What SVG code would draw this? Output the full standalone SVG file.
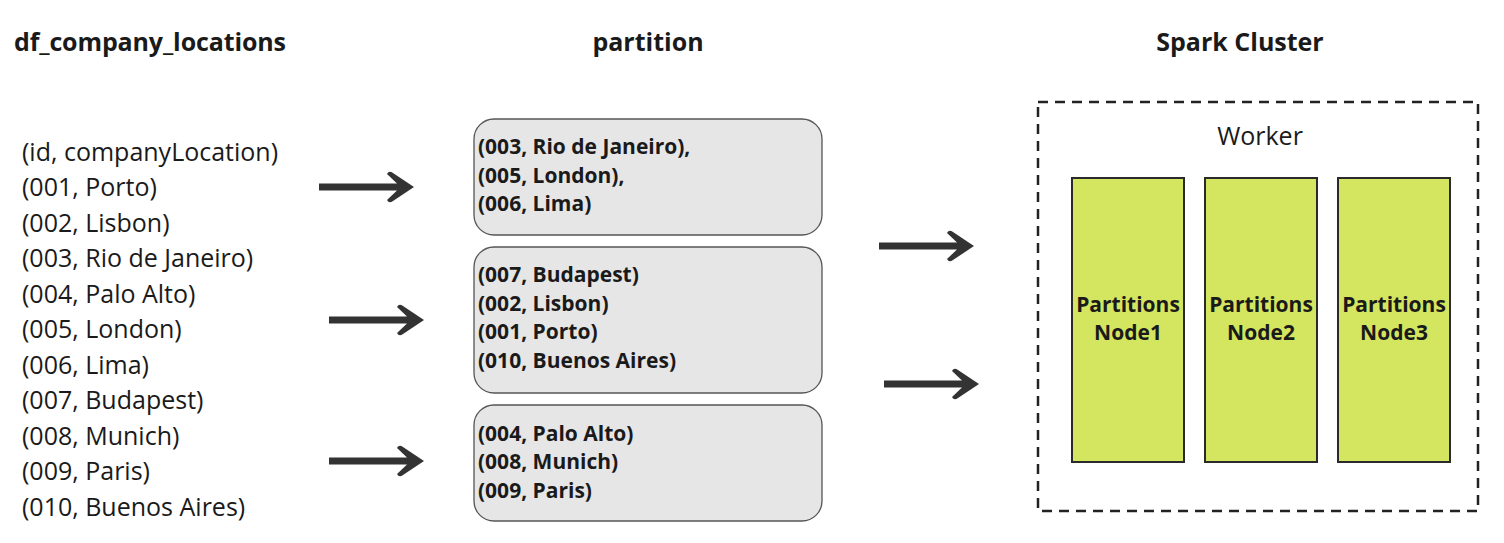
<svg xmlns="http://www.w3.org/2000/svg" xmlns:xlink="http://www.w3.org/1999/xlink" width="1504" height="543" viewBox="0 0 1504 543">
<style>
text{font-family:"Open Sans","Noto Sans","Liberation Sans",sans-serif;fill:#1a1a1a}
.title{font-size:25px;font-weight:700}
.row{font-size:25px}
.pt{font-size:21px;font-weight:700}
.part{fill:#e6e6e6;stroke:#555;stroke-width:1.3}
.gn{fill:#d4e55f;stroke:#2a2a2a;stroke-width:2}
.gt{font-size:21px;font-weight:700;text-anchor:middle}
.arr{fill:#333}
</style>
<defs>
<path id="arrow" class="arr" d="M0,-3.5 L78,-3.5 L68,-13 Q70,-17 74,-14 L95,0 L74,14 Q70,17 68,13 L78,3.5 L0,3.5 Z"/>
</defs>
<g id="titles">
<text class="title" x="14" y="51" textLength="272">df_company_locations</text>
<text class="title" x="648" y="51" text-anchor="middle">partition</text>
<text class="title" x="1240" y="51" text-anchor="middle">Spark Cluster</text>
</g>
<g id="dataframe">
<text class="row" x="22" y="161">(id, companyLocation)</text>
<text class="row" x="22" y="196">(001, Porto)</text>
<text class="row" x="22" y="232">(002, Lisbon)</text>
<text class="row" x="22" y="267">(003, Rio de Janeiro)</text>
<text class="row" x="22" y="303">(004, Palo Alto)</text>
<text class="row" x="22" y="338">(005, London)</text>
<text class="row" x="22" y="374">(006, Lima)</text>
<text class="row" x="22" y="409">(007, Budapest)</text>
<text class="row" x="22" y="445">(008, Munich)</text>
<text class="row" x="22" y="480">(009, Paris)</text>
<text class="row" x="22" y="516">(010, Buenos Aires)</text>
</g>
<g id="partition1">
<rect class="part" x="474" y="119" width="348" height="116" rx="20"/>
<text class="pt" x="478" y="154">(003, Rio de Janeiro),</text>
<text class="pt" x="478" y="183">(005, London),</text>
<text class="pt" x="478" y="211">(006, Lima)</text>
</g>
<g id="partition2">
<rect class="part" x="474" y="247" width="348" height="146" rx="20"/>
<text class="pt" x="478" y="282">(007, Budapest)</text>
<text class="pt" x="478" y="311">(002, Lisbon)</text>
<text class="pt" x="478" y="339">(001, Porto)</text>
<text class="pt" x="478" y="368">(010, Buenos Aires)</text>
</g>
<g id="partition3">
<rect class="part" x="474" y="405" width="348" height="116" rx="20"/>
<text class="pt" x="478" y="441">(004, Palo Alto)</text>
<text class="pt" x="478" y="469">(008, Munich)</text>
<text class="pt" x="478" y="498">(009, Paris)</text>
</g>
<g id="cluster">
<rect x="1038" y="102" width="440" height="409" fill="none" stroke="#222" stroke-width="2.5" stroke-dasharray="10 7"/>
<text x="1260" y="145" font-size="25" text-anchor="middle">Worker</text>
</g>
<g id="node1">
<rect class="gn" x="1072" y="178" width="112" height="284"/>
<text class="gt" x="1128" y="312">Partitions</text>
<text class="gt" x="1128" y="340">Node1</text>
</g>
<g id="node2">
<rect class="gn" x="1205" y="178" width="112" height="284"/>
<text class="gt" x="1261" y="312">Partitions</text>
<text class="gt" x="1261" y="340">Node2</text>
</g>
<g id="node3">
<rect class="gn" x="1338" y="178" width="112" height="284"/>
<text class="gt" x="1394" y="312">Partitions</text>
<text class="gt" x="1394" y="340">Node3</text>
</g>
<g id="connectors">
<use xlink:href="#arrow" transform="translate(319,187)"/>
<use xlink:href="#arrow" transform="translate(329,320)"/>
<use xlink:href="#arrow" transform="translate(329,461)"/>
<use xlink:href="#arrow" transform="translate(879,246)"/>
<use xlink:href="#arrow" transform="translate(884,384)"/>
</g>
</svg>
